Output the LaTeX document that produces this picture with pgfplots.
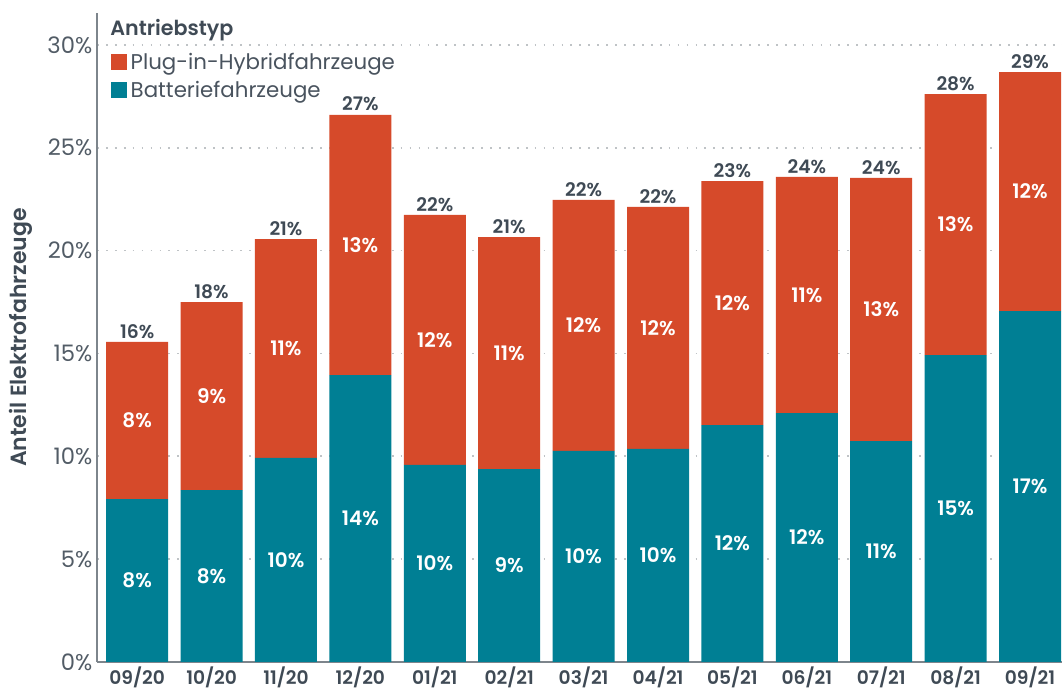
\documentclass[border=0pt]{standalone}
\usepackage{fontspec}
\setmainfont{Poppins}[BoldFont={Poppins SemiBold}]
\usepackage{pgfplots}
\usepackage{pgfplotstable}
\pgfplotsset{compat=1.18}
\definecolor{phev}{HTML}{D64A2A}
\definecolor{bev}{HTML}{007F94}
\definecolor{txt}{HTML}{3F4A55}
\definecolor{axc}{HTML}{7D858C}
\definecolor{gridc}{HTML}{BFC3C6}

\pgfplotstableread{
x bev phev total bl pl tl
0 7.92 7.64 15.56 8 8 16
1 8.36 9.14 17.50 8 9 18
2 9.92 10.64 20.56 10 11 21
3 13.95 12.65 26.60 14 13 27
4 9.58 12.15 21.73 10 12 22
5 9.38 11.28 20.66 9 11 21
6 10.26 12.20 22.46 10 12 22
7 10.36 11.76 22.12 10 12 22
8 11.52 11.86 23.38 12 12 23
9 12.10 11.48 23.58 12 11 24
10 10.74 12.79 23.53 11 13 24
11 14.92 12.69 27.61 15 13 28
12 17.06 11.62 28.68 17 12 29
}\data

\pgfplotsset{base/.style={scale only axis, width=723.75pt, height=486.75pt,
  at={(72.75pt,24.75pt)}, anchor=south west,
  xmin=-0.54, xmax=12.43, ymin=0, ymax=31.55,
  /pgf/number format/assume math mode=true}}

\begin{document}
\begin{tikzpicture}
\useasboundingbox (0,0) rectangle (796.5pt,521.25pt);
\begin{axis}[base, ybar stacked, bar width=46.5pt,
  axis x line*=bottom, axis y line*=left,
  axis line style={axc, line width=1.6pt, -},
  ytick={0,5,...,30},
  yticklabel={\pgfmathprintnumber{\tick}\%},
  yticklabel style={font=\fontsize{17pt}{20pt}\selectfont, color=txt!90},
  xtick=data,
  xticklabels={09/20,10/20,11/20,12/20,01/21,02/21,03/21,04/21,05/21,06/21,07/21,08/21,09/21},
  xticklabel style={font=\bfseries\fontsize{14pt}{16pt}\selectfont, color=txt},
  major tick length=0pt,
  ymajorgrids, grid style={gridc, line width=1.3pt, dash pattern=on 1.3pt off 5.4pt},
  ylabel={Anteil Elektrofahrzeuge},
  every axis y label/.style={at={(axis description cs:-0.0788,0.5)}, rotate=90, anchor=center,
     font=\bfseries\fontsize{16.5pt}{18pt}\selectfont, color=txt},
  reverse legend,
  legend style={at={(axis description cs:0.0145,0.944)}, anchor=north west,
     draw=none, fill=none, inner sep=0pt, row sep=2pt,
     font=\fontsize{16pt}{18pt}\selectfont, text=txt!95,
     nodes={inner sep=2.6pt}},
  legend cell align=left,
  legend image code/.code={\fill[#1] (0pt,-6pt) rectangle (12pt,6pt);},
]
\addplot[fill=bev, draw=none] table[x=x, y=bev] {\data};
\addplot[fill=phev, draw=none] table[x=x, y=phev] {\data};
\legend{Batteriefahrzeuge, Plug-in-Hybridfahrzeuge}
\node[anchor=west, font=\bfseries\fontsize{15.5pt}{17pt}\selectfont, color=txt, inner sep=0pt]
  at (rel axis cs:0.0135,0.974) {Antriebstyp};
\end{axis}
\begin{axis}[base, hide axis, clip=false]
\addplot[draw=none, mark=none, nodes near coords={\pgfplotspointmeta\%}, point meta=explicit symbolic,
  every node near coord/.append style={anchor=center, white, font=\bfseries\fontsize{15pt}{17pt}\selectfont}]
  table[x=x, y expr=\thisrow{bev}/2, meta=bl] {\data};
\addplot[draw=none, mark=none, nodes near coords={\pgfplotspointmeta\%}, point meta=explicit symbolic,
  every node near coord/.append style={anchor=center, white, font=\bfseries\fontsize{15pt}{17pt}\selectfont}]
  table[x=x, y expr=\thisrow{bev}+\thisrow{phev}/2, meta=pl] {\data};
\addplot[draw=none, mark=none, nodes near coords={\pgfplotspointmeta\%}, point meta=explicit symbolic,
  every node near coord/.append style={anchor=south, color=txt, inner sep=2.5pt, font=\bfseries\fontsize{14pt}{16pt}\selectfont}]
  table[x=x, y=total, meta=tl] {\data};
\end{axis}
\end{tikzpicture}
\end{document}
